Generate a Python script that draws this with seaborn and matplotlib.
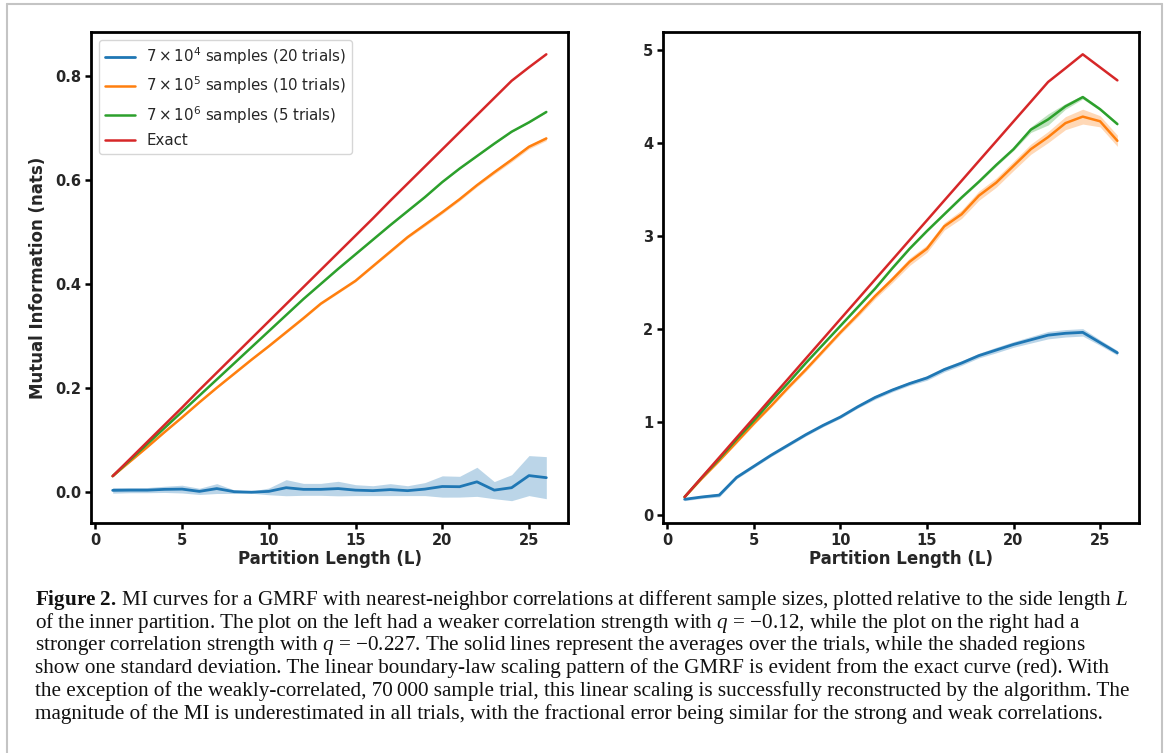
import numpy as np
import pandas as pd
import matplotlib
matplotlib.use("Agg")
import matplotlib.pyplot as plt
import seaborn as sns
from matplotlib.lines import Line2D

# ---------------- data ----------------
L = list(range(1, 27))

# left panel (weaker correlation, q = -0.12)
left_blue_mean = [0.0026, 0.003, 0.003, 0.0045, 0.005, 0.0006, 0.006, 0.000, -0.001, 0.0006,
                  0.0077, 0.0045, 0.0045, 0.006, 0.003, 0.002, 0.004, 0.002, 0.005, 0.010,
                  0.0096, 0.019, 0.003, 0.0077, 0.031, 0.027]
left_blue_std = [0.0055, 0.005, 0.005, 0.006, 0.0075, 0.006, 0.0095, 0.0035, 0.002, 0.0065,
                 0.0155, 0.0115, 0.0115, 0.014, 0.0105, 0.0095, 0.0115, 0.0095, 0.0125, 0.0205,
                 0.020, 0.028, 0.0165, 0.025, 0.0385, 0.0405]
left_orange_mean = [0.030, 0.058, 0.086, 0.115, 0.143, 0.172, 0.200, 0.227, 0.254, 0.280,
                    0.307, 0.334, 0.362, 0.384, 0.406, 0.434, 0.462, 0.490, 0.514, 0.538,
                    0.563, 0.590, 0.615, 0.639, 0.664, 0.680]
left_orange_std = [0.001, 0.001, 0.001, 0.001, 0.001, 0.001, 0.001, 0.0015, 0.0015, 0.0015,
                   0.002, 0.002, 0.002, 0.002, 0.002, 0.002, 0.0025, 0.0025, 0.003, 0.003,
                   0.003, 0.003, 0.0035, 0.004, 0.004, 0.004]
left_green_mean = [0.030, 0.061, 0.092, 0.123, 0.154, 0.185, 0.216, 0.247, 0.278, 0.309,
                   0.340, 0.371, 0.400, 0.429, 0.457, 0.485, 0.513, 0.540, 0.567, 0.596,
                   0.622, 0.646, 0.670, 0.693, 0.711, 0.731]
left_green_std = [0.0005] * 13 + [0.001] * 13
left_exact = [0.030, 0.063, 0.096, 0.129, 0.162, 0.196, 0.229, 0.262, 0.295, 0.328,
              0.361, 0.394, 0.427, 0.460, 0.493, 0.526, 0.560, 0.593, 0.626, 0.659,
              0.692, 0.725, 0.758, 0.791, 0.817, 0.842]

# right panel (stronger correlation, q = -0.227)
right_blue_mean = [0.165, 0.19, 0.21, 0.40, 0.52, 0.64, 0.75, 0.86, 0.96, 1.05,
                   1.16, 1.26, 1.34, 1.41, 1.47, 1.56, 1.63, 1.71, 1.77, 1.83,
                   1.88, 1.93, 1.95, 1.96, 1.85, 1.74]
right_blue_std = [0.015, 0.015, 0.02, 0.015, 0.015, 0.015, 0.015, 0.015, 0.015, 0.015,
                  0.015, 0.02, 0.02, 0.02, 0.025, 0.025, 0.025, 0.025, 0.03, 0.03,
                  0.035, 0.04, 0.04, 0.04, 0.03, 0.025]
right_orange_mean = [0.19, 0.39, 0.58, 0.78, 0.98, 1.17, 1.37, 1.56, 1.76, 1.96,
                     2.15, 2.35, 2.53, 2.72, 2.86, 3.10, 3.23, 3.43, 3.57, 3.75,
                     3.93, 4.06, 4.21, 4.28, 4.23, 4.02]
right_orange_std = [0.01, 0.01, 0.01, 0.015, 0.015, 0.015, 0.02, 0.02, 0.02, 0.02,
                    0.025, 0.03, 0.035, 0.04, 0.04, 0.04, 0.045, 0.05, 0.05, 0.05,
                    0.055, 0.06, 0.07, 0.08, 0.06, 0.06]
right_green_mean = [0.19, 0.40, 0.60, 0.81, 1.01, 1.22, 1.42, 1.63, 1.83, 2.03,
                    2.23, 2.43, 2.65, 2.86, 3.05, 3.23, 3.41, 3.58, 3.76, 3.93,
                    4.14, 4.25, 4.39, 4.49, 4.36, 4.20]
right_green_std = [0.005, 0.005, 0.005, 0.005, 0.005, 0.005, 0.008, 0.008, 0.008, 0.008,
                   0.01, 0.01, 0.01, 0.01, 0.01, 0.01, 0.012, 0.012, 0.015, 0.015,
                   0.03, 0.06, 0.03, 0.02, 0.015, 0.015]
right_exact = [0.190, 0.403, 0.615, 0.828, 1.040, 1.253, 1.465, 1.678, 1.890, 2.103,
               2.315, 2.528, 2.740, 2.953, 3.165, 3.378, 3.590, 3.803, 4.015, 4.228,
               4.440, 4.653, 4.800, 4.950, 4.810, 4.670]

labels = [r"$7\times10^4$ samples (20 trials)",
          r"$7\times10^5$ samples (10 trials)",
          r"$7\times10^6$ samples (5 trials)",
          "Exact"]
x_label = "Partition Length (L)"
y_label = "Mutual Information (nats)"

caption_lines = [
    r"$\mathbf{Figure\ 2.}\,$MI curves for a GMRF with nearest-neighbor correlations at different sample sizes, plotted relative to the side length $L$",
    "of the inner partition. The plot on the left had a weaker correlation strength with $q$ = \u22120.12, while the plot on the right had a",
    "stronger correlation strength with $q$ = \u22120.227. The solid lines represent the averages over the trials, while the shaded regions",
    "show one standard deviation. The linear boundary-law scaling pattern of the GMRF is evident from the exact curve (red). With",
    "the exception of the weakly-correlated, 70\u2009000 sample trial, this linear scaling is successfully reconstructed by the algorithm. The",
    "magnitude of the MI is underestimated in all trials, with the fractional error being similar for the strong and weak correlations.",
]

# ---------------- style ----------------
sns.set_style("ticks")
plt.rcParams["font.family"] = ["DejaVu Sans"]
plt.rcParams["mathtext.fontset"] = "dejavusans"
plt.rcParams["mathtext.rm"] = "Liberation Serif"
plt.rcParams["mathtext.it"] = "Liberation Serif:italic"
plt.rcParams["mathtext.bf"] = "Liberation Serif:bold"

colors = ["#1f77b4", "#ff7f0e", "#2ca02c", "#d62728"]

W, H = 1167, 753
fig = plt.figure(figsize=(W / 100, H / 100), dpi=100)
fig.patch.set_facecolor("white")

ax_l = fig.add_axes([91 / W, 1 - 523 / H, 477 / W, 491 / H])
ax_r = fig.add_axes([663 / W, 1 - 523 / H, 476 / W, 491 / H])


def draw(ax, means, stds, exact, with_legend):
    df = pd.DataFrame({"L": L})
    for i, (m, s) in enumerate(zip(means, stds)):
        m = np.asarray(m)
        s = np.asarray(s)
        ax.fill_between(L, m - s, m + s, color=colors[i], alpha=0.3, lw=0)
        df["v"] = m
        sns.lineplot(data=df, x="L", y="v", color=colors[i], lw=2.0 if i == 0 else 1.8,
                     label=labels[i], ax=ax)
    df["v"] = exact
    sns.lineplot(data=df, x="L", y="v", color=colors[3], lw=1.8, label=labels[3], ax=ax)
    ax.set_xlabel(x_label, fontsize=12, fontweight="bold", labelpad=2)
    ax.set_ylabel("")
    ax.set_xticks([0, 5, 10, 15, 20, 25])
    for sp in ax.spines.values():
        sp.set_visible(True)
        sp.set_linewidth(2.0)
        sp.set_color("black")
    ax.tick_params(width=1.8, length=4.5, pad=2.5, labelsize=10.5, color="black")
    for t in ax.get_xticklabels() + ax.get_yticklabels():
        t.set_fontweight("bold")
    if with_legend:
        ax.legend(loc="upper left", fontsize=10.8, frameon=True)
    else:
        leg = ax.get_legend()
        if leg is not None:
            leg.remove()


draw(ax_l, [left_blue_mean, left_orange_mean, left_green_mean],
     [left_blue_std, left_orange_std, left_green_std], left_exact, True)
ax_l.set_yticks([0.0, 0.2, 0.4, 0.6, 0.8])
ax_l.set_yticklabels(["0.0", "0.2", "0.4", "0.6", "0.8"], fontweight="bold")
ax_l.set_ylabel(y_label, fontsize=12, fontweight="bold", labelpad=6)

draw(ax_r, [right_blue_mean, right_orange_mean, right_green_mean],
     [right_blue_std, right_orange_std, right_green_std], right_exact, False)
ax_r.set_yticks([0, 1, 2, 3, 4, 5])
ax_r.set_yticklabels(["0", "1", "2", "3", "4", "5"], fontweight="bold")

# caption
y0 = 600
for k, line in enumerate(caption_lines):
    fig.text(35 / W, 1 - (y0 + k * 22.8) / H, line, fontsize=15.2,
             family="Liberation Serif", math_fontfamily="custom",
             ha="left", va="center", color="#111111")

# grey frame around the figure
gc = "#c4c4c4"
fig.add_artist(Line2D([7 / W, 7 / W], [0, 1 - 4 / H], transform=fig.transFigure, color=gc, lw=1.5))
fig.add_artist(Line2D([7 / W, 1162 / W], [1 - 4 / H, 1 - 4 / H], transform=fig.transFigure, color=gc, lw=1.5))
fig.add_artist(Line2D([1162 / W, 1162 / W], [0, 1 - 4 / H], transform=fig.transFigure, color=gc, lw=1.5))

fig.savefig("out.png", dpi=100)
